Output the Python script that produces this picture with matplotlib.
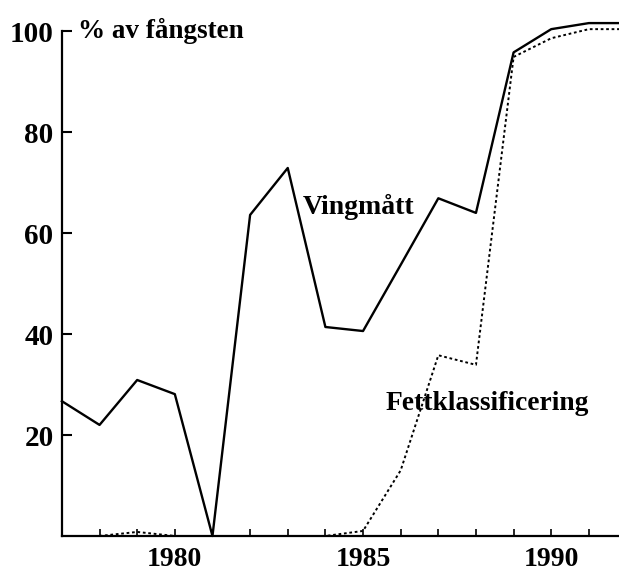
import matplotlib.pyplot as plt

plt.rcParams['font.family'] = ['Liberation Serif', 'DejaVu Serif']
plt.rcParams['font.weight'] = 'bold'

years = [1977, 1978, 1979, 1980, 1981, 1982, 1983, 1984, 1985, 1986,
         1987, 1988, 1989, 1990, 1991, 1992]
vingmatt = [26.7, 22.0, 30.9, 28.1, 0.0, 63.6, 72.9, 41.4, 40.6, 53.7,
            66.9, 64.0, 95.8, 100.4, 101.6, 101.6]

fett_years = [1978, 1979, 1980, 1981, 1982, 1983, 1984, 1985, 1986,
              1987, 1988, 1989, 1990, 1991, 1992]
fett = [0.0, 0.8, 0.0, 0.0, 0.0, 0.0, 0.0, 1.0, 13.0,
        35.8, 33.9, 94.9, 98.6, 100.4, 100.4]

xticks = [1980, 1985, 1990]
yticks = [20, 40, 60, 80, 100]

fig = plt.figure(figsize=(6.19, 5.73), dpi=100)
ax = fig.add_axes([0.1, 0.0646, 0.9, 0.881])

ax.plot(years, vingmatt, color='black', linewidth=1.7, clip_on=False)
ax.plot(fett_years, fett, color='black', linewidth=1.4,
        linestyle=(0, (1.4, 1.4)), clip_on=False)

ax.set_xlim(1977, 1991.8)
ax.set_ylim(0, 100)

ax.spines['top'].set_visible(False)
ax.spines['right'].set_visible(False)
ax.spines['left'].set_linewidth(1.6)
ax.spines['bottom'].set_linewidth(1.6)

ax.set_xticks(range(1978, 1992))
ax.set_xticklabels([str(y) if y in xticks else '' for y in range(1978, 1992)])
ax.set_yticks(yticks)
ax.set_yticklabels([str(v) for v in yticks])
ax.tick_params(axis='x', direction='in', length=5, width=1.2, pad=8, labelsize=20)
ax.tick_params(axis='y', direction='in', length=7, width=1.5, pad=6, labelsize=21)

ax.text(1977.43, 100, '% av fångsten', fontsize=19.5, fontweight='bold', va='center', ha='left')
ax.text(1983.41, 65.1, 'Vingmått', fontsize=20, fontweight='bold', va='center', ha='left')
ax.text(1985.59, 26.3, 'Fettklassificering', fontsize=19.8, fontweight='bold', va='center', ha='left')

plt.savefig('out.png', dpi=100)
